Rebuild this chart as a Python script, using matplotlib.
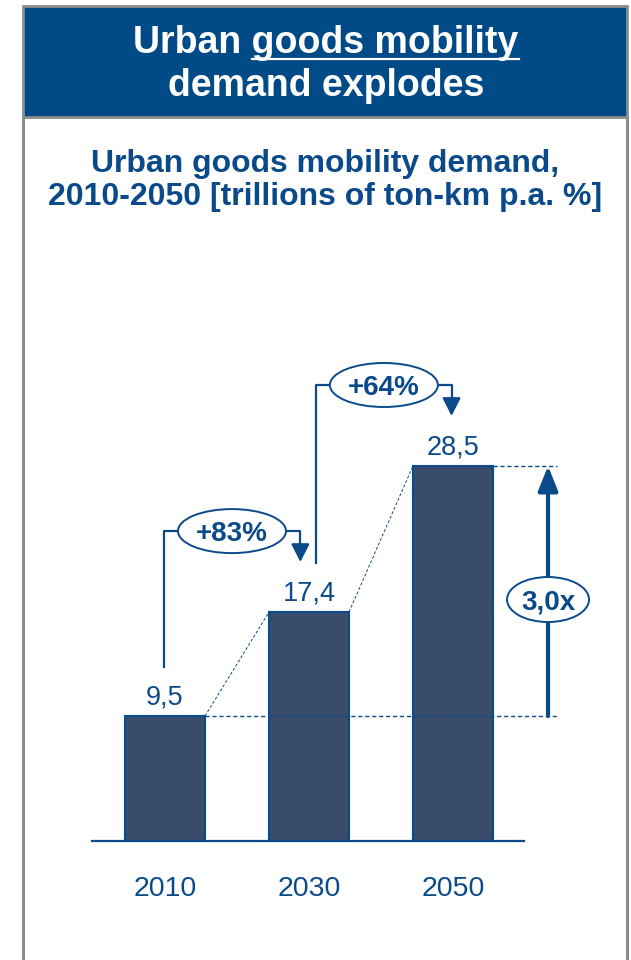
import numpy as np
import matplotlib.pyplot as plt
from matplotlib.patches import Rectangle, Ellipse

plt.rcParams['font.family'] = ['Liberation Sans', 'DejaVu Sans']

years = ['2010', '2030', '2050']
demand = [9.5, 17.4, 28.5]
growth = ['+83%', '+64%']
multiple = '3,0x'

BLUE = '#0B4A8A'
BAR = '#394D6B'
HEADER = '#004A87'
GREY = '#8C8C8C'

W, H = 631, 960
fig = plt.figure(figsize=(W / 100, H / 100), dpi=100)
ax = fig.add_axes([0, 0, 1, 1])
# layout in pixels: first bar centre x=165, bars 144 px apart, baseline y=841, 13.16 px per unit
X0, DX, Y0, DY = 165, 144, 841, 13.16
ax.set_xlim(-X0 / DX, (W - X0) / DX)
ax.set_ylim(-(H - Y0) / DY, Y0 / DY)
ax.axis('off')


def fx(px):
    return px / W


def fy(py):
    return 1 - py / H


# frame + header
ax.add_patch(Rectangle((fx(23), fy(117)), fx(627) - fx(23), fy(6) - fy(117),
                       transform=ax.transAxes, fc=HEADER, ec=GREY, lw=2, zorder=1))
for xb in (23, 627):
    ax.plot([fx(xb), fx(xb)], [fy(117), 0], transform=ax.transAxes, color=GREY, lw=2.2, zorder=1)

t1 = ax.text(fx(326), fy(53), 'Urban goods mobility', transform=ax.transAxes, ha='center',
             va='baseline', fontsize=27, fontweight='bold', color='white')
ax.text(fx(326), fy(96), 'demand explodes', transform=ax.transAxes, ha='center',
        va='baseline', fontsize=27, fontweight='bold', color='white')

# underline "goods mobility"
r = fig.canvas.get_renderer()
bb = t1.get_window_extent(r)
tmp = ax.text(0, 0, 'goods mobility', fontsize=27, fontweight='bold', transform=ax.transAxes)
wu = tmp.get_window_extent(r).width
tmp.remove()
ax.plot([(bb.x1 - wu) / W, bb.x1 / W], [fy(59), fy(59)], transform=ax.transAxes,
        color='white', lw=1.6, zorder=3)

ax.text(fx(325), fy(172), 'Urban goods mobility demand,', transform=ax.transAxes, ha='center',
        va='baseline', fontsize=23, fontweight='bold', color=BLUE)
ax.text(fx(325), fy(205), '2010-2050 [trillions of ton-km p.a. %]', transform=ax.transAxes,
        ha='center', va='baseline', fontsize=23, fontweight='bold', color=BLUE)

# bars
x = np.arange(len(years))
bw = 80 / DX
ax.bar(x, demand, width=bw, color=BAR, edgecolor=BLUE, lw=1.5, zorder=3)
ax.plot([-0.51, 2.49], [0, 0], color=BLUE, lw=1.6, zorder=4)

for i, v in enumerate(demand):
    ax.annotate(f'{v:.1f}'.replace('.', ','), (i, v), xytext=(0, 8.5), textcoords='offset points',
                ha='center', va='baseline', fontsize=19.5, color=BLUE)
    ax.annotate(years[i], (i, 0), xytext=(0, -39.5), textcoords='offset points',
                ha='center', va='baseline', fontsize=20.5, color=BLUE)

# dashed guides
xm = 2.66
dash = (0, (3, 2))
ax.plot([bw / 2, xm + 0.06], [demand[0]] * 2, ls=dash, lw=1, color=BLUE, zorder=4)
ax.plot([2 + bw / 2, xm + 0.06], [demand[2]] * 2, ls=dash, lw=1, color=BLUE, zorder=4)
for i in range(len(demand) - 1):
    ax.plot([i + bw / 2, i + 1 - bw / 2], [demand[i], demand[i + 1]], ls=dash, lw=0.7,
            color=BLUE, zorder=4)

# growth brackets
left_off = [-0.01, 0.05]
right_off = [-0.06, -0.01]
for i, lab in enumerate(growth):
    xl = i + left_off[i]
    xr = i + 1 + right_off[i]
    yb = demand[i] + 3.7
    tip = demand[i + 1] + 3.8
    top = tip + 2.35
    ax.plot([xl, xl, xr, xr], [yb, top, top, tip + 1.2], color=BLUE, lw=1.6, zorder=5)
    ax.annotate('', xy=(xr, tip), xytext=(xr, tip + 1.3),
                arrowprops=dict(arrowstyle='-|>,head_width=0.28,head_length=0.55',
                                mutation_scale=20, color=BLUE, lw=1.6, shrinkA=0, shrinkB=0),
                zorder=5)
    xc = (xl + xr) / 2
    ax.add_patch(Ellipse((xc, top), 108 / DX, 44 / DY, fc='white', ec=BLUE, lw=1.4, zorder=6))
    ax.text(xc, top, lab, ha='center', va='center_baseline', fontsize=20, fontweight='bold',
            color=BLUE, zorder=7)

# total multiple arrow
ax.annotate('', xy=(xm, demand[2]), xytext=(xm, demand[0]),
            arrowprops=dict(arrowstyle='-|>,head_width=0.3,head_length=0.75',
                            mutation_scale=20, color=BLUE, lw=3, shrinkA=0, shrinkB=0),
            zorder=5)
ax.add_patch(Ellipse((xm, 18.35), 82 / DX, 45 / DY, fc='white', ec=BLUE, lw=1.4, zorder=6))
ax.text(xm, 18.35, multiple, ha='center', va='center_baseline', fontsize=20, fontweight='bold',
        color=BLUE, zorder=7)

fig.savefig('out.png', dpi=100)
